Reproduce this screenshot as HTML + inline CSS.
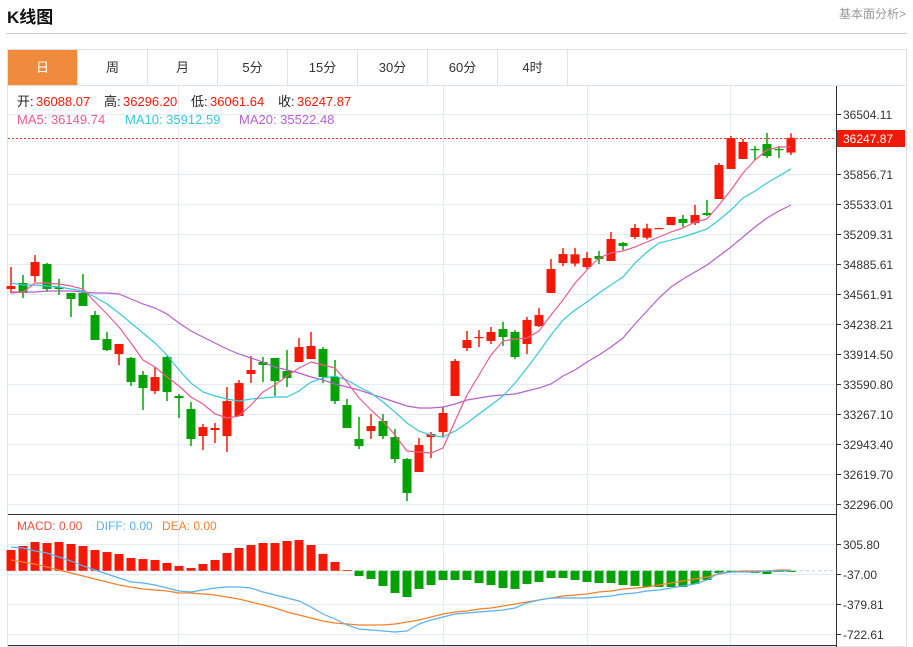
<!DOCTYPE html>
<html><head><meta charset="utf-8">
<style>
html,body{margin:0;padding:0;background:#fff;width:913px;height:647px;overflow:hidden;font-family:"Liberation Sans","Noto Sans CJK SC",sans-serif;}
.title{position:absolute;left:7px;top:3px;font-size:17px;font-weight:bold;color:#111;}
.more{position:absolute;right:7px;top:5px;font-size:12px;color:#999;}
.rule{position:absolute;left:6px;top:33px;width:901px;height:1px;background:#ccc;}
.tabs{position:absolute;left:7px;top:49px;width:900px;height:36px;border:1px solid #dde3e8;border-bottom:none;box-sizing:border-box;}
.tab{position:absolute;top:0;height:36px;width:70px;line-height:36px;text-align:center;font-size:13px;color:#333;border-right:1px solid #dde3e8;box-sizing:border-box;}
.tab.on{background:#f08a3c;color:#fff;}
svg{position:absolute;left:0;top:0;}
</style></head><body>
<div class="title">K线图</div>
<div class="more">基本面分析&gt;</div>
<div class="rule"></div>
<div class="tabs">
<div class="tab on" style="left:0">日</div>
<div class="tab" style="left:70px">周</div>
<div class="tab" style="left:140px">月</div>
<div class="tab" style="left:210px">5分</div>
<div class="tab" style="left:280px">15分</div>
<div class="tab" style="left:350px">30分</div>
<div class="tab" style="left:420px">60分</div>
<div class="tab" style="left:490px">4时</div>
</div>
<svg id="chart" width="913" height="647"></svg>
<script>
const opens=[34616,34681,34756,34886,34637,34573,34573,34335,34076,33914,33871,33688,33515,33882,33461,33321,33029,33094,33029,33245,33699,33828,33871,33731,33828,33860,33968,33666,33364,32997,33083,33191,33018,32781,32641,33018,33072,33461,33979,34087,34055,34184,34152,34022,34216,34573,34896,34890,34853,34972,34918,35112,35177,35170,35268,35306,35371,35328,35436,35587,35911,36019,36126,36181,36126,36088.07];
const highs=[34853,34767,34982,34896,34724,34573,34778,34378,34152,34022,33882,33731,33774,33893,33483,33397,33159,33170,33558,33634,33893,33882,33871,33957,34087,34152,33990,33850,33429,33235,33267,33267,33105,32792,33008,33072,33343,33860,34163,34173,34206,34260,34173,34314,34410,34939,35058,35060,35014,35025,35231,35123,35317,35320,35276,35393,35414,35522,35576,35975,36267,36234,36159,36299,36159,36296.20];
const lows=[34573,34519,34691,34584,34551,34314,34432,34065,33946,33793,33569,33310,33483,33407,33224,32921,32878,32954,32857,33245,33601,33612,33461,33558,33828,33860,33601,33375,33116,32889,32997,32997,32738,32328,32641,32792,33018,33461,33946,33990,34022,34001,33860,33914,34206,34573,34864,34860,34831,34886,34918,35036,35155,35150,35266,35306,35285,35306,35403,35587,35911,36019,36008,36029,36029,36061.64];
const closes=[34648,34573,34907,34616,34616,34508,34432,34065,33957,34022,33612,33547,33666,33504,33439,32997,33126,33116,33407,33601,33742,33796,33623,33655,33990,34001,33666,33407,33116,32921,33137,33029,32781,32415,32932,33051,33278,33839,34065,34098,34152,34098,33882,34281,34335,34831,34993,34990,34950,34939,35155,35080,35274,35270,35274,35393,35328,35414,35414,35954,36245,36202,36116,36051,36116,36247.87];
const ma5=[34583,34583,34680,34680,34670,34648,34616,34476,34346,34206,34033,33850,33774,33666,33569,33450,33375,33267,33224,33245,33364,33504,33580,33677,33763,33828,33796,33763,33612,33440,33310,33191,33040,32868,32857,32846,32900,33191,33472,33688,33904,34055,34076,34087,34163,34335,34497,34680,34821,34950,35004,35026,35069,35123,35177,35231,35274,35339,35371,35522,35684,35867,36008,36116,36148,36149.74];
const ma10=[34680,34659,34659,34648,34637,34616,34594,34529,34454,34357,34249,34141,34033,33904,33742,33601,33504,33461,33429,33407,33429,33440,33450,33450,33515,33612,33655,33677,33634,33558,33494,33397,33288,33170,33083,33040,33018,33083,33170,33267,33364,33461,33601,33763,33936,34119,34281,34389,34476,34573,34659,34745,34896,35015,35112,35144,35177,35220,35263,35360,35468,35598,35673,35760,35835,35912.59];
const ma20=[34573,34583,34583,34594,34594,34594,34583,34573,34573,34562,34508,34454,34411,34346,34249,34163,34098,34033,33968,33914,33871,33828,33774,33742,33710,33666,33634,33591,33558,33526,33483,33440,33397,33353,33332,33332,33343,33375,33418,33440,33461,33472,33483,33515,33547,33591,33677,33742,33828,33904,33990,34087,34238,34378,34519,34637,34724,34799,34875,34972,35069,35177,35285,35382,35458,35522.48];
const macd=[237,283,329,317,329,306,283,237,214,192,146,134,123,89,54,32,77,123,203,260,294,317,317,340,351,294,192,100,8,-60,-94,-174,-254,-300,-208,-163,-106,-106,-106,-140,-163,-197,-208,-151,-128,-83,-83,-106,-128,-140,-140,-163,-174,-186,-186,-186,-186,-151,-106,-26,-14,-14,-26,-37,-14,-14];
const diff=[272,260,226,203,157,112,54,9,-37,-83,-128,-140,-163,-197,-231,-243,-220,-197,-186,-186,-197,-243,-277,-311,-346,-414,-494,-551,-620,-665,-677,-688,-700,-688,-608,-563,-528,-494,-483,-471,-460,-448,-426,-368,-334,-311,-311,-311,-311,-300,-288,-266,-254,-231,-220,-197,-174,-151,-106,-26,-14,-14,-14,-3,-3,-3];
const dea=[123,100,77,43,9,-26,-60,-94,-128,-163,-186,-208,-220,-231,-254,-254,-266,-277,-300,-323,-357,-391,-426,-471,-505,-540,-574,-597,-608,-620,-620,-620,-608,-585,-563,-528,-494,-471,-460,-437,-426,-403,-380,-357,-334,-311,-288,-277,-266,-243,-231,-208,-197,-186,-163,-140,-117,-94,-71,-37,-14,-3,-3,-3,9,9];
const priceTicks=[36504.11,35856.71,35533.01,35209.31,34885.61,34561.91,34238.21,33914.50,33590.80,33267.10,32943.40,32619.70,32296.00];
const macdTicks=[305.80,-37.00,-379.81,-722.61];
const lastPrice=36247.87;

const NS='http://www.w3.org/2000/svg';
const svg=document.getElementById('chart');
function mk(tag,attrs,parent){const e=document.createElementNS(NS,tag);for(const k in attrs)e.setAttribute(k,attrs[k]);(parent||svg).appendChild(e);return e;}
const L=8,R=836;
const xAt=i=>11+12*i;
const yP=v=>504-(v-32296)*30/323.7;
const yM=v=>574-(v+37)*30/342.81;

// frame and grids
let g=mk('g',{});


mk('rect',{x:7.5,y:85.5,width:899,height:561,fill:'none',stroke:'#dde3e8'},g);
[178,443,587,730].forEach(x=>mk('line',{x1:x+.5,y1:86,x2:x+.5,y2:645,stroke:'#e3eaf0'},g));
priceTicks.forEach(t=>{const y=Math.round(yP(t))+.5;mk('line',{x1:L,y1:y,x2:R,y2:y,stroke:'#e3eaf0'},g);});
macdTicks.forEach(t=>{const y=Math.round(yM(t))+.5;mk('line',{x1:L,y1:y,x2:R,y2:y,stroke:'#e3eaf0'},g);});
mk('line',{x1:R+.5,y1:86,x2:R+.5,y2:647,stroke:'#333'},g);
mk('line',{x1:L,y1:514.5,x2:R,y2:514.5,stroke:'#333'},g);
mk('line',{x1:L,y1:645.5,x2:R,y2:645.5,stroke:'#333'},g);

// axis labels
const ax=mk('g',{font: '', 'font-size':12,fill:'#333'});


priceTicks.forEach(t=>{const y=Math.round(yP(t))+.5;mk('line',{x1:R,y1:y,x2:R+5,y2:y,stroke:'#333'},ax);const tx=mk('text',{x:R+7,y:y+4.5,'font-family':'Liberation Sans, sans-serif'},ax);tx.textContent=t.toFixed(2);});
const ax2=mk('g',{'font-size':12,fill:'#333'});


macdTicks.forEach(t=>{const y=Math.round(yM(t))+.5;mk('line',{x1:R,y1:y,x2:R+5,y2:y,stroke:'#333'},ax2);const tx=mk('text',{x:R+7,y:y+4.5,'font-family':'Liberation Sans, sans-serif'},ax2);tx.textContent=t.toFixed(2);});

// candles
const cg=mk('g',{});


for(let i=0;i<closes.length;i++){
  const up=closes[i]>=opens[i];const col=up?'#f21a06':'#04a204';
  const x=xAt(i);
  const c=mk('g',{},cg);
  
  
  mk('line',{x1:x,y1:yP(highs[i]),x2:x,y2:yP(lows[i]),stroke:col,'stroke-width':1.5},c);
  const t=yP(Math.max(opens[i],closes[i])),b=yP(Math.min(opens[i],closes[i]));
  mk('rect',{x:x-4.5,y:t,width:9,height:Math.max(1.2,b-t),fill:col},c);
}
// MA lines
function line(arr,fy,col,name,parent){const p=arr.map((v,i)=>(i?'L':'M')+xAt(i)+' '+fy(v).toFixed(1)).join('');const e=mk('path',{d:p,fill:'none',stroke:col,'stroke-width':1.2},parent);return e;}
line(ma20,yP,'#b65fcf','ma20-line');
line(ma10,yP,'#36c8dc','ma10-line');
line(ma5,yP,'#ec5a8c','ma5-line');

// last price
const lp=mk('g',{});


const ly=Math.round(yP(lastPrice))+.5;
mk('line',{x1:L,y1:ly,x2:R,y2:ly,stroke:'#e8313a','stroke-dasharray':'2,2'},lp);
mk('rect',{x:837,y:ly-8.5,width:68,height:17,fill:'#f21a06'},lp);
const lt=mk('text',{x:843,y:ly+4.5,'font-size':12,fill:'#fff','font-family':'Liberation Sans, sans-serif'},lp);lt.textContent=lastPrice.toFixed(2);

// MACD
const mg=mk('g',{});


const z=yM(0);
mk('line',{x1:L,y1:z,x2:R,y2:z,stroke:'#a8d8f0','stroke-dasharray':'3,3'},mg);
for(let i=0;i<macd.length;i++){
  const v=macd[i],y=yM(v);
  const b=mk('rect',{x:xAt(i)-4.5,y:Math.min(y,z),width:9,height:Math.max(0.8,Math.abs(y-z)),fill:v>=0?'#f21a06':'#04a204'},mg);
  
  
}
line(dea,yM,'#f5802a','dea-line');
line(diff,yM,'#5ab0f5','diff-line');

// info text
function txt(x,y,s,col,name){const t=mk('text',{x:x,y:y,'font-size':13,fill:col,'font-family':'Liberation Sans, Noto Sans CJK SC, sans-serif'});t.textContent=s;return t;}
txt(17,106,'开:','#222','open-label');txt(36,106,'36088.07','#f21a06','open-value');
txt(104,106,'高:','#222','high-label');txt(123,106,'36296.20','#f21a06','high-value');
txt(191,106,'低:','#222','low-label');txt(210,106,'36061.64','#f21a06','low-value');
txt(278,106,'收:','#222','close-label');txt(297,106,'36247.87','#f21a06','close-value');
txt(17,124,'MA5:  36149.74','#ec5a8c','ma5-legend');
txt(125,124,'MA10:  35912.59','#36c8dc','ma10-legend');
txt(239,124,'MA20:  35522.48','#b65fcf','ma20-legend');
const mt=[['MACD: 0.00','#e8513d',17,'macd-legend'],['DIFF: 0.00','#5ab0f5',96,'diff-legend'],['DEA: 0.00','#f5802a',162,'dea-legend']];
mt.forEach(a=>{const t=txt(a[2],530,a[0],a[1],a[3]);t.setAttribute('font-size',12);});
</script>
</body></html>
